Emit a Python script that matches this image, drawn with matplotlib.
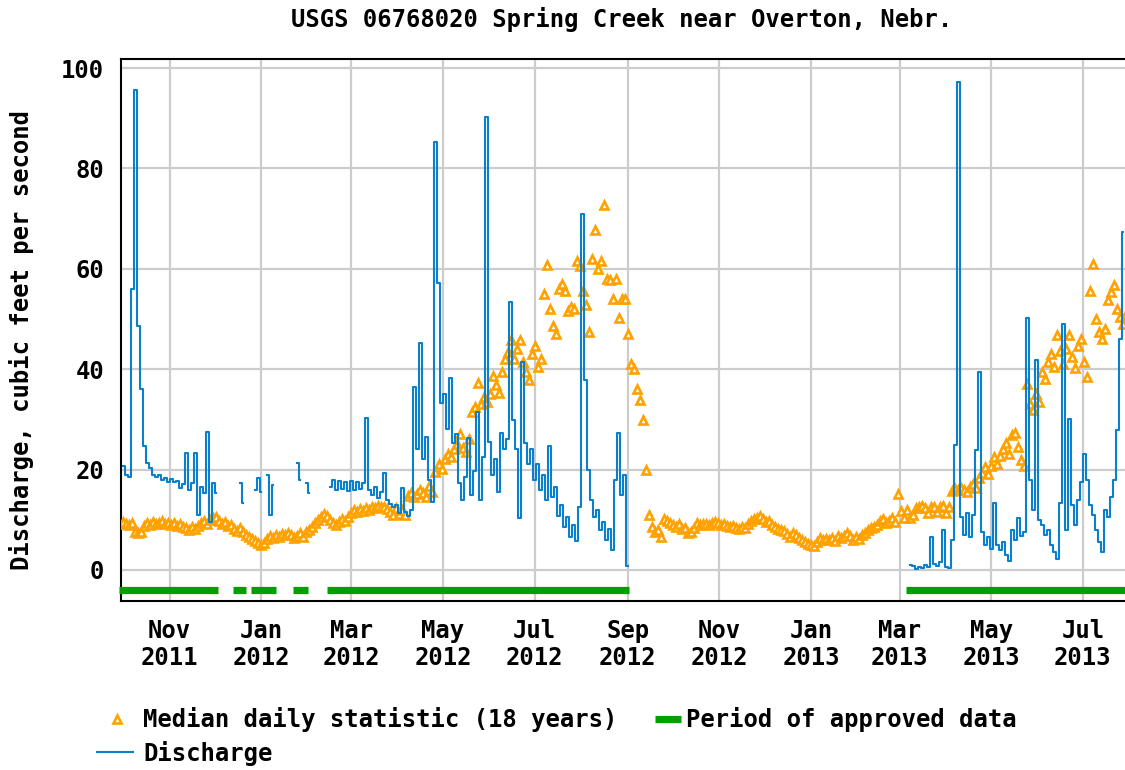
"""
Daily discharge at USGS 06768020 Spring Creek near Overton, Nebr.
Oct 2011 - Jul 2013, with the median daily statistic and approved-data periods.
"""

import matplotlib
matplotlib.use("Agg")
import matplotlib.pyplot as plt
import matplotlib.dates as mdates
from matplotlib.lines import Line2D
import pandas as pd

OUTPUT = "out.png"

# Median daily statistic (18 years), every second day from 2011-10-01
median_start = "2011-10-01"
median_cfs = [
    9.5, 9.2, 9.0, 9.3, 7.6, 7.3, 7.5, 8.8,
    9.4, 9.0, 9.6, 9.2, 9.3, 9.8, 9.2, 9.4,
    9.0, 9.3, 8.8, 9.1, 8.6, 8.4, 8.0, 8.6, 8.2, 8.7,
    9.4, 9.8, 9.2, 10.0, 10.4, 10.6, 9.8, 9.2, 9.5, 8.8, 8.9,
    8.2, 7.8, 8.4, 7.5, 7.0, 6.6, 6.2, 5.8, 5.4, 5.0, 5.3, 6.2,
    6.8, 6.4, 7.0, 6.6, 7.2, 6.9, 7.4, 7.0, 6.3, 6.8, 7.4, 6.6, 7.5,
    8.0, 8.6, 9.4, 10.0, 10.6, 11.2, 10.8, 10.0, 9.4, 9.0, 9.6, 10.2, 9.8,
    10.6, 11.4, 12.0, 11.5, 12.2, 11.8, 12.4, 12.0,
    12.6, 12.4, 12.8, 12.5, 12.6, 12.2,
    11.6, 11.0, 12.4, 11.2, 12.0, 11.0, 14.8, 15.4,
    14.5, 15.2, 16.0, 15.4, 14.6, 16.8, 15.6,
    19.5, 21.0, 20.2, 22.0, 23.0, 22.4, 24.0, 25.0,
    27.0, 24.2, 23.4, 26.0, 31.5, 32.5, 37.2,
    33.0, 34.5, 33.5, 35.0, 38.6, 36.8, 35.2, 39.4,
    42.0, 43.5, 45.8, 42.0, 44.0, 45.8, 41.5,
    39.5, 37.8, 43.0, 44.6, 40.5, 42.0, 55.0, 60.8, 52.0, 48.5,
    47.0, 56.0, 57.0, 55.5, 51.5, 52.4,
    52.0, 61.5, 60.5, 55.5, 52.8, 47.5, 62.0, 67.8, 60.0,
    61.5, 72.8, 58.0, 57.8, 54.0, 58.0, 50.2, 54.0, 54.0,
    47.0, 41.0, 40.0, 36.0, 33.8, 29.8, 20.0,
    11.0, 8.5, 7.6, 8.0, 6.6, 10.2, 9.8, 9.4, 9.0,
    8.6, 9.2, 8.2, 8.4, 7.4, 7.6,
    8.4, 9.4, 9.0, 9.1, 9.2, 9.0, 9.4, 9.6,
    9.4, 9.0, 9.2, 8.8, 8.6, 8.8, 8.4, 8.2, 8.6, 8.4,
    9.2, 9.8, 10.2, 10.4, 10.8, 10.2, 9.6, 9.8,
    9.0, 8.6, 8.2, 8.0, 7.8, 7.2, 6.6, 7.4, 7.0,
    6.4, 6.0, 5.6, 5.2, 5.0, 4.8, 5.6,
    6.4, 6.0, 6.2, 6.0, 6.4, 5.8, 6.8, 6.4, 6.8, 7.4, 6.8,
    6.0, 6.6, 6.2, 7.0, 7.4, 8.0,
    8.4, 8.6, 9.0, 9.8, 10.2, 9.4, 9.8, 10.4, 9.6,
    15.2, 11.8, 10.4, 12.0, 10.4, 11.0,
    12.4, 12.6, 12.8, 12.4, 11.4, 12.6, 12.6, 11.6, 12.6, 12.8, 11.4, 12.6,
    15.8, 16.2, 16.0, 16.4, 16.0, 15.6, 16.6, 17.2, 16.4, 18.4,
    19.4, 20.6, 19.2, 20.8, 22.4,
    21.0, 22.6, 24.0, 25.2, 23.0, 26.8, 27.2, 24.5, 21.8, 20.8,
    37.0, 33.0, 31.8, 35.0, 33.4, 39.5,
    38.0, 41.5, 43.0, 40.5, 46.8, 43.6, 41.0,
    44.0, 46.8, 42.5, 40.3, 44.6, 46.0, 41.5,
    38.4, 55.5, 61.0, 50.0, 47.5, 46.0,
    48.0, 53.8, 55.4, 56.8, 52.0, 50.4, 49.0, 51.0,
]

# Discharge, every second day; each run starts on the date given
q_fall_2011 = [
    20.8, 19.0, 18.6, 56.0, 95.6, 48.5, 36.0, 24.6, 21.2, 20.3,
    19.0, 18.5, 18.9, 17.9, 18.4, 17.6, 18.2, 17.5, 17.8, 16.4,
    17.2, 23.2, 16.0, 17.3, 23.2, 11.0, 16.5, 15.3, 27.5, 9.6,
    17.3, 15.3,
]
q_winter_bits = [
    ("2011-12-18", [17.3, 13.3]),
    ("2011-12-28", [16.0, 18.3, 15.5]),
    ("2012-01-05", [18.9, 11.0, 17.0]),
    ("2012-01-25", [21.3, 17.9]),
    ("2012-01-31", [17.3, 15.3]),
]
q_2012 = [
    16.5, 18.0, 16.0, 17.8, 16.2, 17.5, 15.8, 17.8, 16.0, 17.6,
    16.2, 17.4, 30.2, 16.0, 15.0, 16.5, 14.4, 15.6, 19.3, 14.0,
    13.2, 12.6, 13.0, 11.4, 16.3, 11.6, 10.8, 12.0, 36.5, 24.0,
    45.2, 22.0, 26.5, 18.0, 13.6, 85.3, 57.2, 33.3, 35.0, 28.0,
    38.2, 25.3, 27.0, 17.3, 14.0, 18.6, 26.3, 15.0, 19.8, 31.5,
    14.0, 22.5, 90.3, 25.5, 19.0, 22.0, 15.6, 27.2, 24.0, 26.0,
    53.4, 29.9, 24.0, 10.4, 41.5, 25.3, 21.0, 24.0, 18.0, 21.0,
    16.0, 19.0, 14.0, 24.6, 14.6, 16.5, 10.8, 13.0, 8.5, 10.5,
    6.5, 9.0, 5.8, 12.5, 71.0, 37.8, 20.0, 13.9, 10.6, 12.0,
    8.0, 9.6, 6.0, 8.2, 4.0, 18.0, 27.3, 15.0, 18.9, 0.7,
]
q_2013 = [
    1.0, 0.8, 0.2, 0.6, 0.3, 1.0, 0.5, 6.6, 1.2, 0.8,
    1.6, 8.0, 0.5, 0.3, 6.0, 24.9, 97.3, 10.5, 7.0, 11.3,
    6.5, 11.0, 23.9, 39.5, 7.5, 5.0, 6.5, 4.2, 13.3, 5.0,
    4.0, 5.5, 3.0, 1.8, 8.0, 6.0, 10.3, 6.8, 7.5, 50.1,
    18.0, 12.0, 41.8, 10.0, 9.0, 7.0, 8.0, 5.0, 3.5, 2.2,
    13.4, 48.9, 8.0, 30.0, 13.0, 9.0, 14.0, 17.6, 23.0, 18.0,
    13.0, 11.0, 8.0, 5.5, 3.5, 12.0, 10.5, 14.5, 18.0, 27.9,
    46.0, 67.4,
]
discharge_runs = (
    [("2011-10-01", q_fall_2011)]
    + q_winter_bits
    + [("2012-02-16", q_2012), ("2013-03-08", q_2013)]
)

# Periods of approved data
approved_start = ["2011-09-28", "2011-12-13", "2011-12-25", "2012-01-22",
                  "2012-02-14", "2013-03-05"]
approved_end = ["2011-12-03", "2011-12-22", "2012-01-11", "2012-02-01",
                "2012-09-02", "2013-08-10"]

BLUE = "#0a80cc"
ORANGE = "#ffa200"
GREEN = "#00a000"
FONT = dict(family="DejaVu Sans Mono", weight="bold", size=17.2)
MEDIAN_STYLE = dict(marker="^", markersize=5.6, markerfacecolor="white",
                    markeredgecolor=ORANGE, markeredgewidth=1.9,
                    linestyle="none")

W, H = 1125, 770


def fx(px):
    return px / W


def fy(py):
    return 1 - py / H


def main():
    fig = plt.figure(figsize=(W / 100, H / 100), dpi=100)
    ax = fig.add_axes([fx(121), fy(601), fx(1125 - 121), (601 - 59) / H])

    ax.grid(True, color="#cccccc", linewidth=1.6, zorder=0)

    med_dates = pd.date_range(median_start, periods=len(median_cfs), freq="2D")
    ax.plot(med_dates, median_cfs, zorder=3, **MEDIAN_STYLE)

    for start, vals in discharge_runs:
        dates = pd.date_range(start, periods=len(vals), freq="2D")
        ax.plot(dates, vals, color=BLUE, linewidth=1.5,
                drawstyle="steps-mid", zorder=4)

    for s, e in zip(approved_start, approved_end):
        ax.plot([pd.Timestamp(s), pd.Timestamp(e)], [-4, -4], color=GREEN,
                linewidth=5.2, solid_capstyle="butt", clip_on=False, zorder=5)

    ax.set_xlim(pd.Timestamp("2011-09-29 14:00"), pd.Timestamp("2013-07-29 03:00"))
    ax.set_ylim(-6.2, 101.8)
    ax.set_yticks([0, 20, 40, 60, 80, 100])
    ax.xaxis.set_major_locator(mdates.MonthLocator(bymonth=(1, 3, 5, 7, 9, 11)))
    ax.xaxis.set_major_formatter(mdates.DateFormatter("%b\n%Y"))
    ax.tick_params(axis="both", length=0)
    ax.tick_params(axis="x", pad=13)
    ax.tick_params(axis="y", pad=12)
    for lab in ax.get_xticklabels() + ax.get_yticklabels():
        lab.set_fontfamily(FONT["family"])
        lab.set_fontweight(FONT["weight"])
        lab.set_fontsize(FONT["size"])
    for lab in ax.get_xticklabels():
        lab.set_linespacing(1.15)

    for side in ("left", "bottom", "top"):
        ax.spines[side].set_linewidth(1.5)
        ax.spines[side].set_color("black")
    ax.spines["right"].set_visible(False)

    fig.text(fx(622), fy(20), "USGS 06768020 Spring Creek near Overton, Nebr.",
             ha="center", va="center", **FONT)
    fig.text(fx(22), fy(340), "Discharge, cubic feet per second", rotation=90,
             ha="center", va="center", **FONT)

    # legend, drawn by hand in figure pixels
    fig.add_artist(Line2D([fx(117)], [fy(719)], **MEDIAN_STYLE))
    fig.text(fx(143), fy(720), "Median daily statistic (18 years)",
             ha="left", va="center", **FONT)
    fig.add_artist(Line2D([fx(655), fx(681)], [fy(719), fy(719)], color=GREEN,
                          linewidth=5.2, solid_capstyle="butt"))
    fig.text(fx(686), fy(720), "Period of approved data",
             ha="left", va="center", **FONT)
    fig.add_artist(Line2D([fx(97), fx(133)], [fy(752), fy(752)], color=BLUE,
                          linewidth=1.5))
    fig.text(fx(143), fy(753), "Discharge", ha="left", va="center", **FONT)

    fig.savefig(OUTPUT, dpi=100)
    plt.close(fig)


if __name__ == "__main__":
    main()
